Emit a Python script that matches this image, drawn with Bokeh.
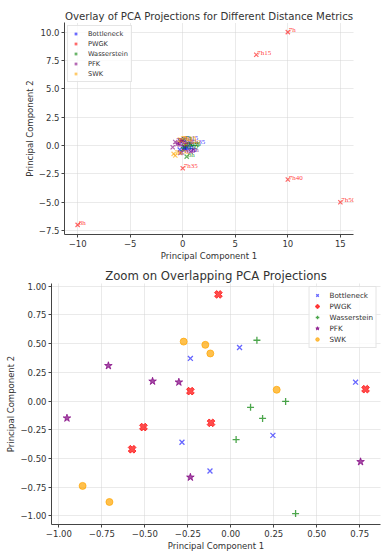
import numpy as np
from bokeh.plotting import figure
from bokeh.models import (SingleIntervalTicker, CustomJSTickFormatter, Legend, LegendItem,
                          ColumnDataSource, LabelSet)
from bokeh.embed import file_html
from bokeh.resources import INLINE

# ---- data ----
metrics = ["Bottleneck", "PWGK", "Wasserstein", "PFK", "SWK"]
times = ["7h", "7h15", "7h35", "7h40", "7h50", "8h"]

# zoomed projections
bott_x = [-0.235, 0.051, 0.726, -0.284, -0.121, 0.245]
bott_y = [0.371, 0.466, 0.164, -0.359, -0.609, -0.299]
pwgk_x = [-0.072, -0.235, 0.784, -0.508, -0.574, -0.115]
pwgk_y = [0.928, 0.086, 0.103, -0.227, -0.420, -0.190]
wass_x = [0.152, 0.115, 0.319, 0.185, 0.031, 0.377]
wass_y = [0.529, -0.055, -0.004, -0.152, -0.336, -0.980]
pfk_x = [-0.712, -0.455, -0.302, -0.953, -0.235, 0.755]
pfk_y = [0.307, 0.172, 0.164, -0.149, -0.664, -0.529]
swk_x = [-0.274, -0.148, -0.119, 0.267, -0.862, -0.706]
swk_y = [0.517, 0.489, 0.414, 0.098, -0.739, -0.879]

# overlay: PWGK projections (outliers)
pwgk_ov_x = [10, 7, 0, 10, 15, -10]
pwgk_ov_y = [10, 8, -2, -3, -5, -7]

colors = ["blue", "red", "green", "purple", "orange"]
FONT = "DejaVu Sans"


def fmt(dec):
    return CustomJSTickFormatter(code="""
        var t = Math.abs(tick) < 1e-9 ? 0 : tick;
        return t.toFixed(%d).replace('-', '\\u2212');
    """ % dec)


def style(p, xdec, ydec, xint, yint):
    p.outline_line_color = None
    p.background_fill_color = "white"
    p.border_fill_color = "white"
    for ax in (p.xaxis[0], p.yaxis[0]):
        ax.axis_line_color = "#444444"
        ax.axis_line_width = 1
        ax.major_tick_line_color = "#444444"
        ax.major_tick_out = 3
        ax.major_tick_in = 0
        ax.minor_tick_line_color = None
        ax.major_label_text_font = FONT
        ax.major_label_text_font_size = "8.5px"
        ax.major_label_text_color = "#333333"
        ax.axis_label_text_font = FONT
        ax.axis_label_text_font_size = "8.5px"
        ax.axis_label_text_font_style = "normal"
        ax.axis_label_text_color = "#333333"
        ax.major_label_standoff = 2
        ax.axis_label_standoff = 1
    p.xaxis[0].ticker = SingleIntervalTicker(interval=xint, num_minor_ticks=0)
    p.yaxis[0].ticker = SingleIntervalTicker(interval=yint, num_minor_ticks=0)
    p.xaxis[0].formatter = fmt(xdec)
    p.yaxis[0].formatter = fmt(ydec)
    for g in (p.xgrid[0], p.ygrid[0]):
        g.grid_line_color = "#d4d4d4"
        g.grid_line_dash = "1 1"
    p.title.text_font = FONT
    p.title.text_font_style = "normal"
    p.title.text_color = "#333333"
    p.title.align = "center"


def legend_style(leg, fs, lh, pad, standoff):
    leg.label_text_font = FONT
    leg.label_text_font_size = fs
    leg.label_text_color = "#333333"
    leg.glyph_width = 9
    leg.glyph_height = lh
    leg.label_height = lh
    leg.spacing = 1
    leg.padding = pad
    leg.margin = 3
    leg.label_standoff = standoff
    leg.border_line_color = "#cccccc"
    leg.background_fill_alpha = 0.8


# ---- top: overlay ----
p1 = figure(width=385, height=263, output_backend="svg", toolbar_location=None,
            x_range=(-11.25, 16.25), y_range=(-7.85, 10.85),
            title="Overlay of PCA Projections for Different Distance Metrics",
            x_axis_label="Principal Component 1", y_axis_label="Principal Component 2",
            min_border_left=64, min_border_right=32, min_border_top=22, min_border_bottom=20)
p1.title.text_font_size = "10.2px"
p1.title.standoff = 2
style(p1, 0, 1, 5, 2.5)

top_sets = [(bott_x, bott_y), (pwgk_ov_x, pwgk_ov_y), (wass_x, wass_y), (pfk_x, pfk_y), (swk_x, swk_y)]
items1 = []
for name, (xs, ys), c in zip(metrics, top_sets, colors):
    src = ColumnDataSource(dict(x=xs, y=ys, t=times))
    r = p1.scatter("x", "y", source=src, marker="x", size=6, line_color=c, line_alpha=0.6, line_width=1.2)
    p1.add_layout(LabelSet(x="x", y="y", text="t", source=src, text_color=c, text_alpha=0.8,
                           text_font=FONT, text_font_size="7px", text_baseline="bottom",
                           text_align="left", x_offset=1, y_offset=-2))
    items1.append(LegendItem(label=name, renderers=[r]))
leg1 = Legend(items=items1, location="top_left")
legend_style(leg1, "6.6px", 9, 3, 8)
p1.add_layout(leg1)

# ---- bottom: zoom ----
p2 = figure(width=385, height=290, output_backend="svg", toolbar_location=None,
            x_range=(-1.043, 0.871), y_range=(-1.075, 1.023),
            title="Zoom on Overlapping PCA Projections",
            x_axis_label="Principal Component 1", y_axis_label="Principal Component 2",
            min_border_left=51, min_border_right=5, min_border_top=20, min_border_bottom=24)
p2.title.text_font_size = "11.7px"
p2.title.standoff = 2
style(p2, 2, 2, 0.25, 0.25)

r_b = p2.scatter(bott_x, bott_y, marker="x", size=7, line_color="blue", line_alpha=0.6, line_width=1.3)
r_p = p2.scatter(pwgk_x, pwgk_y, marker="plus", angle=np.pi / 4, size=8, fill_color="red",
                 fill_alpha=0.7, line_color="red", line_alpha=0.7)
r_w = p2.scatter(wass_x, wass_y, marker="cross", size=7, line_color="green", line_alpha=0.7, line_width=1.3)
r_f = p2.scatter(pfk_x, pfk_y, marker="star", size=8, fill_color="purple", fill_alpha=0.7,
                 line_color="purple", line_alpha=0.7)
r_s = p2.scatter(swk_x, swk_y, marker="circle", size=7, fill_color="orange", fill_alpha=0.7,
                 line_color="orange", line_alpha=0.7)
leg2 = Legend(items=[LegendItem(label=n, renderers=[r]) for n, r in
                     zip(metrics, [r_b, r_p, r_w, r_f, r_s])], location="top_right")
legend_style(leg2, "7.2px", 10, 3, 8)
p2.add_layout(leg2)

open("out.html", "w").write(file_html([p1, p2], INLINE))
